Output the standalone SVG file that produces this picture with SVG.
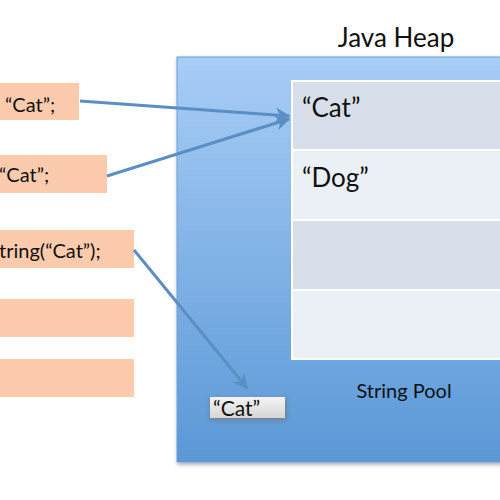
<svg xmlns="http://www.w3.org/2000/svg" width="500" height="500" viewBox="0 0 500 500">
<style>
text{font-family:Lato,"Open Sans","Liberation Sans",sans-serif;fill:#111}
.code{fill:#fccbad}
.conn{stroke:#5b8fc4;stroke-width:3;fill:none;marker-end:url(#ah)}
.lbl{font-size:20px}
.big{font-size:26px}
</style>
<defs>
<linearGradient id="heap" x1="0" y1="0" x2="0" y2="1">
<stop offset="0" stop-color="#a8cdf6"/>
<stop offset="1" stop-color="#5a98d6"/>
</linearGradient>
<linearGradient id="chip" x1="0" y1="0" x2="0" y2="1">
<stop offset="0" stop-color="#f4f4f4"/>
<stop offset="1" stop-color="#d6d6d6"/>
</linearGradient>
<filter id="blur" x="-20%" y="-40%" width="140%" height="180%">
<feGaussianBlur stdDeviation="2"/>
</filter>
<filter id="sh" x="-10%" y="-10%" width="120%" height="120%">
<feDropShadow dx="1" dy="2" stdDeviation="2" flood-color="#000" flood-opacity="0.35"/>
</filter>
<marker id="ah" viewBox="0 0 10 10" refX="9" refY="5" markerWidth="5" markerHeight="5" orient="auto" markerUnits="strokeWidth">
<path d="M0,0 L10,5 L0,10 L3,5 z" fill="#5b8fc4"/>
</marker>
</defs>
<text x="396" y="47" text-anchor="middle" font-size="26">Java Heap</text>
<g id="heap-area">
<rect x="177" y="57" width="340" height="405" fill="url(#heap)" stroke="#6a9fd8" stroke-width="1" filter="url(#sh)"/>
</g>
<g id="string-pool">
<rect x="292" y="81" width="220" height="69" fill="#d8dfeb" stroke="#fff" stroke-width="2"/>
<rect x="292" y="150" width="220" height="70" fill="#ebeff6" stroke="#fff" stroke-width="2"/>
<rect x="292" y="220" width="220" height="70" fill="#d8dfeb" stroke="#fff" stroke-width="2"/>
<rect x="292" y="290" width="220" height="69" fill="#ebeff6" stroke="#fff" stroke-width="2"/>
<text x="302" y="117" class="big">“Cat”</text>
<text x="302" y="187" class="big">“Dog”</text>
<text x="404" y="398" text-anchor="middle" class="lbl">String Pool</text>
</g>
<g id="heap-cat">
<rect x="209" y="398" width="78" height="23" fill="#777" opacity="0.6" filter="url(#blur)"/>
<rect x="210" y="397" width="75" height="21" fill="url(#chip)"/>
<text x="213" y="416" font-size="21">“Cat”</text>
</g>
<g id="s1">
<rect x="0" y="83" width="79" height="37" class="code"/>
<text x="5" y="112" class="lbl">“Cat”;</text>
</g>
<g id="s2">
<rect x="0" y="155" width="107" height="38" class="code"/>
<text x="-1" y="182" class="lbl">“Cat”;</text>
</g>
<g id="s3">
<rect x="0" y="230" width="134" height="38" class="code"/>
<text x="-1" y="258" class="lbl">tring(“Cat”);</text>
</g>
<g id="s4">
<rect x="0" y="299" width="134" height="38" class="code"/>
</g>
<g id="s5">
<rect x="0" y="359" width="134" height="38" class="code"/>
</g>
<g id="connectors">
<line x1="80" y1="101" x2="289" y2="116" class="conn"/>
<line x1="107" y1="176" x2="289" y2="119" class="conn"/>
<line x1="134" y1="250" x2="247" y2="388" class="conn"/>
</g>
</svg>
